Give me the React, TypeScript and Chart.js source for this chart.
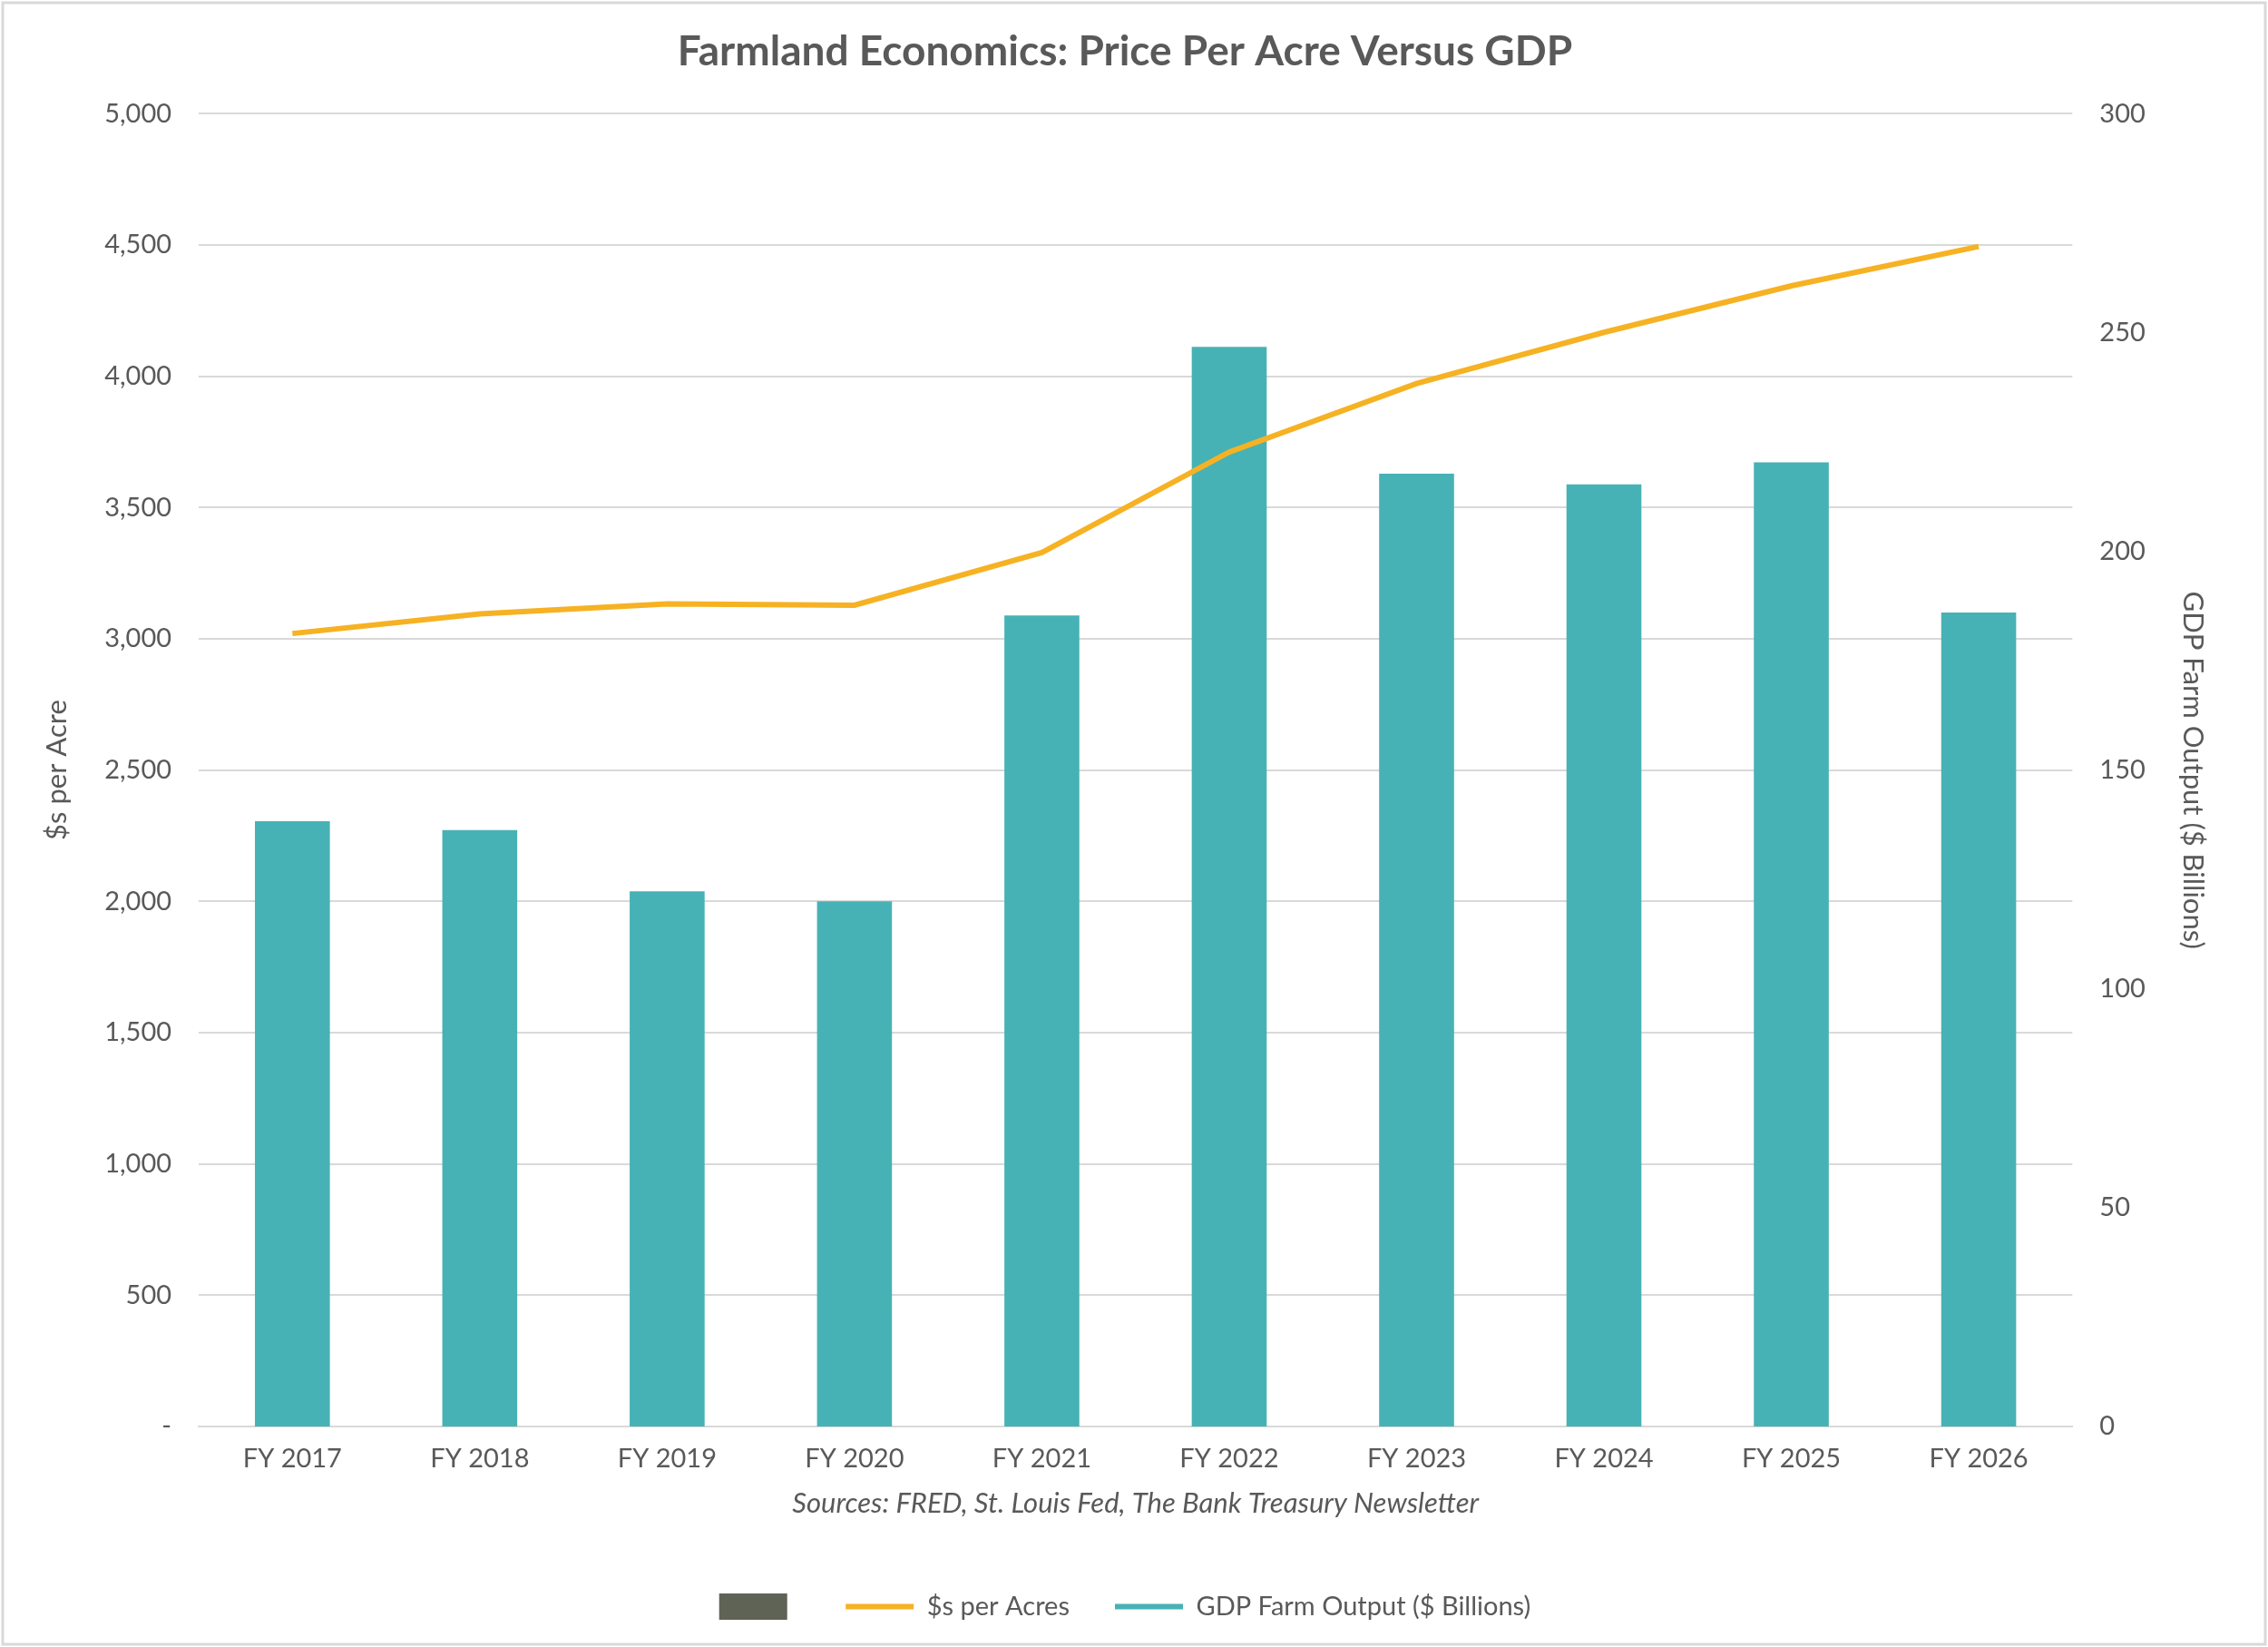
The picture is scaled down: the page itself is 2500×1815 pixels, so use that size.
import React, { useEffect, useRef } from "react";
import { Chart, registerables } from "chart.js";
Chart.register(...registerables);

const categories = ["FY 2017","FY 2018","FY 2019","FY 2020","FY 2021","FY 2022","FY 2023","FY 2024","FY 2025","FY 2026"];
const gdpFarmOutput = [138.3,136.3,122.3,120,185.3,246.7,217.7,215.3,220.3,186];
const pricePerAcre = [3020,3095,3133,3128,3328,3711,3972,4167,4344,4494];
const emptySeries: number[] = [];

const FONT = "Lato, 'Open Sans', sans-serif";
const GRAY = "#595959";

export default function App() {
  const ref = useRef<HTMLCanvasElement>(null);
  useEffect(() => {
    document.body.style.margin = "0";
    const chart = new Chart(ref.current!, {
      type: "bar",
      data: {
        labels: categories,
        datasets: [
          { type: "bar", label: "GDP Farm Output ($ Billions)", data: gdpFarmOutput, backgroundColor: "#47B2B5", yAxisID: "y1", categoryPercentage: 0.4, barPercentage: 1, order: 2 },
          { type: "line", label: "$s per Acres", data: pricePerAcre, borderColor: "#F6B223", backgroundColor: "#F6B223", borderWidth: 6, pointRadius: 0, yAxisID: "y", order: 1, tension: 0 },
          { type: "line", label: "", data: emptySeries, borderColor: "#5E6356", backgroundColor: "#5E6356", borderWidth: 6, pointRadius: 0, yAxisID: "y", order: 0 },
        ],
      },
      options: {
        animation: false,
        responsive: false,
        layout: { padding: { left: 40, right: 60, top: 10, bottom: 20 } },
        plugins: {
          title: { display: true, text: "Farmland Economics: Price Per Acre Versus GDP", color: GRAY, font: { family: FONT, size: 46 }, padding: { top: 20, bottom: 40 } },
          legend: {
            position: "bottom",
            labels: {
              color: GRAY, font: { family: FONT, size: 29 }, usePointStyle: true, pointStyleWidth: 75, padding: 50,
              generateLabels: (c: any) => {
                const items = Chart.defaults.plugins.legend.labels.generateLabels(c);
                return items.map((it: any, i: number) => ({ ...it, pointStyle: i === 0 ? "rect" : "line", lineWidth: i === 0 ? 0 : 6, strokeStyle: it.fillStyle }));
              },
            },
          },
          tooltip: { enabled: false },
        },
        scales: {
          x: {
            grid: { display: false },
            border: { color: "#D9D9D9", width: 2 },
            ticks: { color: GRAY, font: { family: FONT, size: 29 }, padding: 10 },
            title: { display: true, text: "Sources: FRED, St. Louis Fed, The Bank Treasury Newsletter", color: GRAY, font: { family: FONT, size: 31, style: "italic" }, padding: { top: 4, bottom: 30 } },
          },
          y: {
            position: "left", min: 0, max: 5000,
            ticks: { stepSize: 500, color: GRAY, font: { family: FONT, size: 29 }, padding: 30, callback: (v: any) => (v === 0 ? "-" : Number(v).toLocaleString("en-US")) },
            grid: { color: "#D9D9D9", lineWidth: 2, drawTicks: false },
            border: { display: false },
            title: { display: true, text: "$s per Acre", color: GRAY, font: { family: FONT, size: 31 } },
          },
          y1: {
            position: "right", min: 0, max: 300,
            ticks: { stepSize: 50, color: GRAY, font: { family: FONT, size: 29 }, padding: 30 },
            grid: { display: false, drawTicks: false },
            border: { display: false },
            title: { display: true, text: "GDP Farm Output ($ Billions)", color: GRAY, font: { family: FONT, size: 31 } },
          },
        },
      },
      plugins: [{
        id: "frame",
        afterDraw: (c: any) => {
          const ctx = c.ctx; ctx.save(); ctx.strokeStyle = "#D9D9D9"; ctx.lineWidth = 3;
          ctx.strokeRect(3, 3, c.width - 6, c.height - 6); ctx.restore();
        },
      }],
    });
    return () => chart.destroy();
  }, []);
  return <canvas ref={ref} width={2500} height={1815} style={{ display: "block" }} />;
}
